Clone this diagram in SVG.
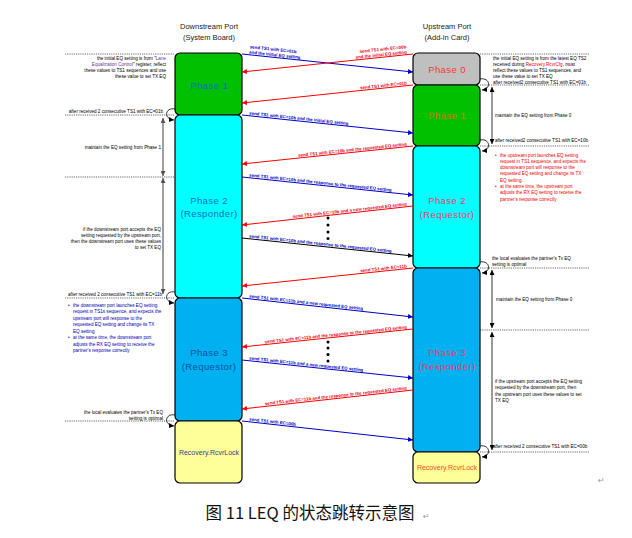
<svg xmlns="http://www.w3.org/2000/svg" width="632" height="538" viewBox="0 0 632 538">
<style>
.bx{stroke:#000;stroke-width:1.2}
.t{font-family:"Liberation Sans",Arial,sans-serif;font-size:4.6px;fill:#000}
.tr{font-family:"Liberation Sans",Arial,sans-serif;font-size:4.6px;fill:#e00}
.tb{font-family:"Liberation Sans",Arial,sans-serif;font-size:4.6px;fill:#0000b0}
.lb{font-family:"Liberation Sans",Arial,sans-serif;font-size:4.4px;font-weight:bold;fill:#0000c0}
.lr{font-family:"Liberation Sans",Arial,sans-serif;font-size:4.4px;font-weight:bold;fill:#e8001c;text-anchor:end}
.hd{font-family:"Liberation Sans",Arial,sans-serif;font-size:7.5px;fill:#222;text-anchor:middle}
.ph{font-family:"Liberation Sans",Arial,sans-serif;font-size:9.5px;text-anchor:middle;letter-spacing:0.4px}
.rv{font-family:"Liberation Sans",Arial,sans-serif;font-size:7px;text-anchor:middle}
.ab{stroke:#0000c8;stroke-width:1;fill:none}
.ar{stroke:#ff0000;stroke-width:1;fill:none}
.ak{stroke:#000;stroke-width:1;fill:none}
.dl{stroke:#000;stroke-width:0.6;stroke-dasharray:1.2 1;fill:none}
.vg{stroke:#7f7f7f;stroke-width:1.5;fill:none}
.vk{stroke:#000;stroke-width:0.8;fill:none}
.lp{stroke:#000;stroke-width:0.8;fill:none}
</style>
<defs>
<marker id="mb" viewBox="0 0 10 10" refX="10" refY="5" markerWidth="5" markerHeight="5" orient="auto" markerUnits="userSpaceOnUse"><path d="M0,0L10,5L0,10z" fill="#0000c8"/></marker>
<marker id="mr" viewBox="0 0 10 10" refX="10" refY="5" markerWidth="5" markerHeight="5" orient="auto" markerUnits="userSpaceOnUse"><path d="M0,0L10,5L0,10z" fill="#ff0000"/></marker>
<marker id="mk" viewBox="0 0 10 10" refX="10" refY="5" markerWidth="5" markerHeight="5" orient="auto-start-reverse" markerUnits="userSpaceOnUse"><path d="M0,0L10,5L0,10z" fill="#000"/></marker>
<marker id="mg" viewBox="0 0 10 10" refX="10" refY="5" markerWidth="5" markerHeight="5" orient="auto-start-reverse" markerUnits="userSpaceOnUse"><path d="M0,0L10,5L0,10z" fill="#555"/></marker>
</defs>
<rect width="632" height="538" fill="#fff"/>

<text class="hd" x="209" y="29">Downstream Port</text>
<text class="hd" x="209" y="40">(System Board)</text>
<text class="hd" x="447" y="29">Upstream Port</text>
<text class="hd" x="447" y="40">(Add-in Card)</text>

<g id="ds-phase1"><rect class="bx" x="175" y="53" width="67" height="62" rx="5" fill="#00c000"/><text class="ph" x="209" y="89" fill="#0070c0">Phase 1</text></g>
<g id="ds-phase2"><rect class="bx" x="175" y="115" width="67" height="183" rx="5" fill="#00ffff"/><text class="ph" x="209" y="204" fill="#0070c0">Phase 2</text><text class="ph" x="209" y="217" fill="#0070c0">(Responder)</text></g>
<g id="ds-phase3"><rect class="bx" x="175" y="298" width="67" height="123" rx="5" fill="#00b0f0"/><text class="ph" x="209" y="356" fill="#0050a0">Phase 3</text><text class="ph" x="209" y="370" fill="#0050a0">(Requestor)</text></g>
<g id="ds-recovery"><rect class="bx" x="175" y="421" width="67" height="62" rx="5" fill="#ffff99"/><text class="rv" x="209" y="455" fill="#3c3c8c">Recovery.RcvrLock</text></g>

<g id="us-phase0"><rect class="bx" x="413" y="53" width="67" height="32" rx="5" fill="#bfbfbf"/><text class="ph" x="447" y="73" fill="#ff3333">Phase 0</text></g>
<g id="us-phase1"><rect class="bx" x="413" y="85" width="67" height="61" rx="5" fill="#00c000"/><text class="ph" x="447" y="119" fill="#e46c0a">Phase 1</text></g>
<g id="us-phase2"><rect class="bx" x="413" y="146" width="67" height="122" rx="5" fill="#00ffff"/><text class="ph" x="447" y="204" fill="#ee3a6e">Phase 2</text><text class="ph" x="447" y="218" fill="#ee3a6e">(Requestor)</text></g>
<g id="us-phase3"><rect class="bx" x="413" y="268" width="67" height="184" rx="5" fill="#00b0f0"/><text class="ph" x="447" y="356" fill="#ee3a6e">Phase 3</text><text class="ph" x="447" y="370" fill="#ee3a6e">(Responder)</text></g>
<g id="us-recovery"><rect class="bx" x="413" y="452" width="67" height="31" rx="5" fill="#ffff99"/><text class="rv" x="447" y="470" fill="#f04e23">Recovery.RcvrLock</text></g>

<g id="connectors">
<line class="ab" x1="242" y1="54" x2="413" y2="72" marker-end="url(#mb)"/>
<line class="ar" x1="413" y1="54" x2="242" y2="72" marker-end="url(#mr)"/>
<line class="ar" x1="413" y1="85" x2="242" y2="103" marker-end="url(#mr)"/>
<line class="ab" x1="242" y1="115" x2="413" y2="133" marker-end="url(#mb)"/>
<line class="ar" x1="413" y1="146" x2="242" y2="164" marker-end="url(#mr)"/>
<line class="ab" x1="242" y1="177" x2="413" y2="195" marker-end="url(#mb)"/>
<line class="ar" x1="413" y1="206" x2="242" y2="225" marker-end="url(#mr)"/>
<line class="ak" x1="242" y1="238" x2="413" y2="256" marker-end="url(#mk)"/>
<line class="ar" x1="413" y1="268" x2="242" y2="286" marker-end="url(#mr)"/>
<line class="ab" x1="242" y1="298" x2="413" y2="317" marker-end="url(#mb)"/>
<line class="ar" x1="413" y1="329" x2="242" y2="347" marker-end="url(#mr)"/>
<line class="ab" x1="242" y1="360" x2="413" y2="378" marker-end="url(#mb)"/>
<line class="ar" x1="413" y1="390" x2="242" y2="409" marker-end="url(#mr)"/>
<line class="ab" x1="242" y1="421" x2="413" y2="440" marker-end="url(#mb)"/>

<g transform="translate(242,54) rotate(6)"><text class="lb" x="7" y="-6.5">send TS1 with EC=01b</text><text class="lb" x="7" y="-1.2">and the initial EQ setting</text></g>
<g transform="translate(413,54) rotate(-6)"><text class="lr" x="-6" y="-6.5">send TS1 with EC=00b</text><text class="lr" x="-6" y="-1.2">and the initial EQ setting</text></g>
<g transform="translate(413,85) rotate(-6)"><text class="lr" x="-6" y="-1.2">send TS1 with EC=01b</text></g>
<g transform="translate(242,115) rotate(6)"><text class="lb" x="7" y="-1.2">send TS1 with EC=10b and the initial EQ setting</text></g>
<g transform="translate(413,146) rotate(-6)"><text class="lr" x="-6" y="-1.2">send TS1 with EC=10b and the requested EQ setting</text></g>
<g transform="translate(242,177) rotate(6)"><text class="lb" x="7" y="-1.2">send TS1 with EC=10b and the response to the requested EQ setting</text></g>
<g transform="translate(413,206) rotate(-6.3)"><text class="lr" x="-6" y="-1.2">send TS1 with EC=10b and a new requested EQ setting</text></g>
<g transform="translate(242,238) rotate(6)"><text class="lb" x="7" y="-1.2">send TS1 with EC=10b and the response to the requested EQ setting</text></g>
<g transform="translate(413,268) rotate(-6)"><text class="lr" x="-6" y="-1.2">send TS1 with EC=11b</text></g>
<g transform="translate(242,298) rotate(6.3)"><text class="lb" x="7" y="-1.2">send TS1 with EC=11b and a new requested EQ setting</text></g>
<g transform="translate(413,329) rotate(-6)"><text class="lr" x="-6" y="-1.2">send TS1 with EC=11b and the response to the requested EQ setting</text></g>
<g transform="translate(242,360) rotate(6)"><text class="lb" x="7" y="-1.2">send TS1 with EC=11b and a new requested EQ setting</text></g>
<g transform="translate(413,390) rotate(-6.3)"><text class="lr" x="-6" y="-1.2">send TS1 with EC=11b and the response to the requested EQ setting</text></g>
<g transform="translate(242,421) rotate(6.3)"><text class="lb" x="7" y="-1.2">send TS1 with EC=00b</text></g>

<g fill="#000"><circle cx="328" cy="218" r="1.5"/><circle cx="328" cy="225" r="1.5"/><circle cx="328" cy="232" r="1.5"/><circle cx="328" cy="238.5" r="1.5"/>
<circle cx="328" cy="342" r="1.5"/><circle cx="328" cy="348" r="1.5"/><circle cx="328" cy="354.5" r="1.5"/><circle cx="328" cy="361" r="1.5"/></g>

<path class="dl" d="M65,54H175M65,115H175M65,177H175M65,298H175M65,421H175"/>
<path class="dl" d="M480,54H590M480,85H590M480,146H590M480,268H590M480,330H590M480,452H590"/>

<line class="vg" x1="163" y1="118" x2="163" y2="176" marker-start="url(#mg)" marker-end="url(#mg)"/>
<line class="vg" x1="163" y1="178" x2="163" y2="294" marker-start="url(#mg)" marker-end="url(#mg)"/>
<line class="vk" x1="492" y1="87" x2="492" y2="144" marker-start="url(#mk)" marker-end="url(#mk)"/>
<line class="vk" x1="492" y1="270" x2="492" y2="328" marker-start="url(#mk)" marker-end="url(#mk)"/>
<line class="vk" x1="492" y1="332" x2="492" y2="450" marker-start="url(#mk)" marker-end="url(#mk)"/>

<path class="lp" d="M175,109C165,107 163,119 174,120" marker-end="url(#mk)"/>
<path class="lp" d="M175,292C165,290 163,302 174,303" marker-end="url(#mk)"/>
<path class="lp" d="M175,415C165,413 163,425 174,426" marker-end="url(#mk)"/>
<path class="lp" d="M480,79C490,77 492,89 482,90" marker-end="url(#mk)"/>
<path class="lp" d="M480,140C490,138 492,150 482,151" marker-end="url(#mk)"/>
<path class="lp" d="M480,262C490,260 492,272 482,273" marker-end="url(#mk)"/>
<path class="lp" d="M480,446C490,444 492,456 482,457" marker-end="url(#mk)"/>
</g>

<g id="left-notes" text-anchor="end">
<text class="t" x="166" y="59.5">the initial EQ setting is from "<tspan fill="#7030a0">Lane</tspan></text>
<text class="t" x="166" y="65.5"><tspan fill="#7030a0">Equalization Control</tspan>" register, reflect</text>
<text class="t" x="166" y="71.5">these values to TS1 sequences and use</text>
<text class="t" x="166" y="77.5">these value to set TX EQ</text>
<text class="t" x="163" y="113">after received 2 consecutive TS1 with EC=01b</text>
<text class="t" x="161" y="148.5">maintain the EQ setting from Phase 1</text>
<text class="t" x="161" y="230.5">if the downstream port accepts the EQ</text>
<text class="t" x="161" y="236.5">setting requested by the upstream port,</text>
<text class="t" x="161" y="242.5">then the downstream port uses these values</text>
<text class="t" x="161" y="248.5">to set TX EQ</text>
<text class="t" x="162" y="295.5">after received 2 consecutive TS1 with EC=11b</text>
<text class="t" x="163" y="413.5">the local evaluates the partner's Tx EQ</text>
<text class="t" x="163" y="419.5">setting is optimal</text>
</g>
<g id="left-bullets">
<text class="tb" x="68" y="306.5">•</text><text class="tb" x="73" y="306.5">the downstream port launches EQ setting</text>
<text class="tb" x="73" y="313">request in TS1s sequence, and expects the</text>
<text class="tb" x="73" y="319.5">upstream port will response to the</text>
<text class="tb" x="73" y="326">requested EQ setting and change its TX</text>
<text class="tb" x="73" y="332.5">EQ setting</text>
<text class="tb" x="68" y="339">•</text><text class="tb" x="73" y="339">at the same time, the downstream port</text>
<text class="tb" x="73" y="345.5">adjusts the RX EQ setting to receive the</text>
<text class="tb" x="73" y="352">partner's response correctly</text>
</g>

<g id="right-notes">
<text class="t" x="493" y="59.5">the initial EQ setting is from the latest EQ TS2</text>
<text class="t" x="493" y="65.5">received during <tspan fill="#e00">Recovery.RcvrCfg</tspan>, must</text>
<text class="t" x="493" y="71.5">reflect these values to TS1 sequences, and</text>
<text class="t" x="493" y="77.5">use these value to set TX EQ</text>
<text class="t" x="493" y="83.5">after received2 consecutive TS1 with EC=01b</text>
<text class="t" x="495" y="116.5">maintain the EQ setting from Phase 0</text>
<text class="t" x="495" y="141.5">after received2 consecutive TS1 with EC=10b</text>
<text class="tr" x="495" y="156.5">•</text><text class="tr" x="500" y="156.5">the upstream port launches EQ setting</text>
<text class="tr" x="500" y="162.8">request in TS1 sequence, and expects the</text>
<text class="tr" x="500" y="169.1">downstream port will response to the</text>
<text class="tr" x="500" y="175.4">requested EQ setting and change its TX</text>
<text class="tr" x="500" y="181.7">EQ setting.</text>
<text class="tr" x="495" y="188">•</text><text class="tr" x="500" y="188">at the same time, the upstream port</text>
<text class="tr" x="500" y="194.3">adjusts the RX EQ setting to receive the</text>
<text class="tr" x="500" y="200.6">partner's response correctly</text>
<text class="t" x="492" y="260">the local evaluates the partner's Tx EQ</text>
<text class="t" x="492" y="266">setting is optimal</text>
<text class="t" x="496" y="300.5">maintain the EQ setting from Phase 0</text>
<text class="t" x="495" y="382.5">if the upstream port accepts the EQ setting</text>
<text class="t" x="495" y="389">requested by the downstream port, then</text>
<text class="t" x="495" y="395.5">the upstream port uses these values to set</text>
<text class="t" x="495" y="402">TX EQ</text>
<text class="t" x="493" y="448">after received 2 consecutive TS1 with EC=00b</text>
</g>

<text x="598" y="483" font-family="'DejaVu Sans',sans-serif" font-size="8" fill="#999">↵</text>
<text x="310" y="519" text-anchor="middle" font-family="'Noto Sans CJK SC',sans-serif" font-size="16.5" fill="#111">图 11 LEQ 的状态跳转示意图</text>
<text x="423" y="519" font-family="'DejaVu Sans',sans-serif" font-size="8" fill="#999">↵</text>
</svg>
